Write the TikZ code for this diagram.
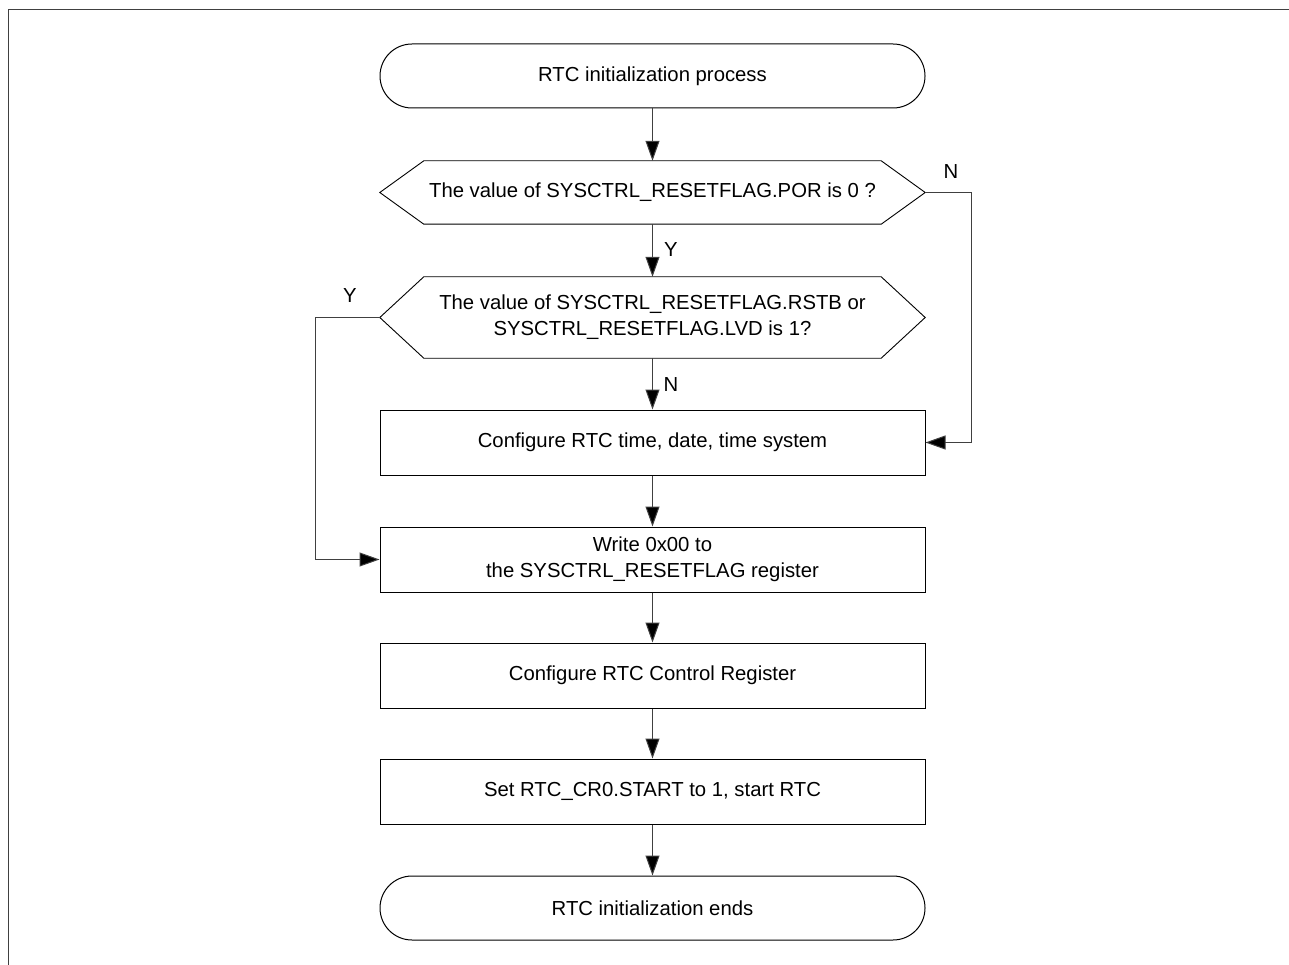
\documentclass[tikz,border=0pt]{standalone}
\usepackage{fontspec}
\setmainfont{Liberation Sans}
\usetikzlibrary{arrows.meta,shapes.misc}
\begin{document}
\begin{tikzpicture}[x=1pt,y=-1pt,
  every node/.style={font=\fontsize{20.3}{26}\selectfont},
  flowline/.style={draw=black!75,line width=1pt},
  arr/.style={flowline,-{Triangle[length=20pt,width=14pt,fill=black]}},
  procbox/.style={draw=black,line width=1pt,rectangle,minimum width=545pt,minimum height=65pt,align=center,inner sep=0pt},
  termbox/.style={draw=black,line width=1pt,rounded rectangle,minimum width=545pt,minimum height=64pt,inner sep=0pt},
  decbox/.style={rectangle,minimum width=545pt,inner sep=0pt,align=center},
  hexline/.style={draw=black,line width=0.9pt},
  lbl/.style={font=\fontsize{20.3}{24}\selectfont}
]
\useasboundingbox (0,0) rectangle (1289,965);
% partial frame
\draw[flowline] (8,965) -- (8,10) -- (1289,10);

\node[termbox] (start) at (652.5,76) {RTC initialization process};
\node[decbox,minimum height=63pt] (d1) at (652.5,192.5) {The value of SYSCTRL\_RESETFLAG.POR is 0 ?};
\node[decbox,minimum height=81pt] (d2) at (652.5,317.5) {The value of SYSCTRL\_RESETFLAG.RSTB or\\SYSCTRL\_RESETFLAG.LVD is 1?};
\foreach \d in {d1,d2}{
  \draw[hexline] (\d.west) -- ([xshift=44pt]\d.north west) -- ([xshift=-44pt]\d.north east)
    -- (\d.east) -- ([xshift=-44pt]\d.south east) -- ([xshift=44pt]\d.south west) -- cycle;
}
\node[procbox] (p1) at (652.5,442.5) {Configure RTC time, date, time system};
\node[procbox] (p2) at (652.5,559.5) {Write 0x00 to\\the SYSCTRL\_RESETFLAG register};
\node[procbox] (p3) at (652.5,675.5) {Configure RTC Control Register};
\node[procbox] (p4) at (652.5,791.5) {Set RTC\_CR0.START to 1, start RTC};
\node[termbox] (stop) at (652.5,908) {RTC initialization ends};

\coordinate (nr) at (971,192.5);
\coordinate (yl) at (315,317.5);

\draw[arr] (start.south) -- (d1.north);
\draw[arr] (d1.south) -- (d2.north);
\node[lbl] (ylab1) at (671,250) {Y};
\draw[arr] (d2.south) -- (p1.north);
\node[lbl] (nlab2) at (671,385) {N};
\draw[arr] (p1.south) -- (p2.north);
\draw[arr] (p2.south) -- (p3.north);
\draw[arr] (p3.south) -- (p4.north);
\draw[arr] (p4.south) -- (stop.north);

\draw[arr] (d1.east) -- (nr) |- (p1.east);
\node[lbl] (nlab) at (951,172) {N};
\draw[arr] (d2.west) -- (yl) |- (p2.west);
\node[lbl] (ylab) at (350,296) {Y};
\end{tikzpicture}
\end{document}
